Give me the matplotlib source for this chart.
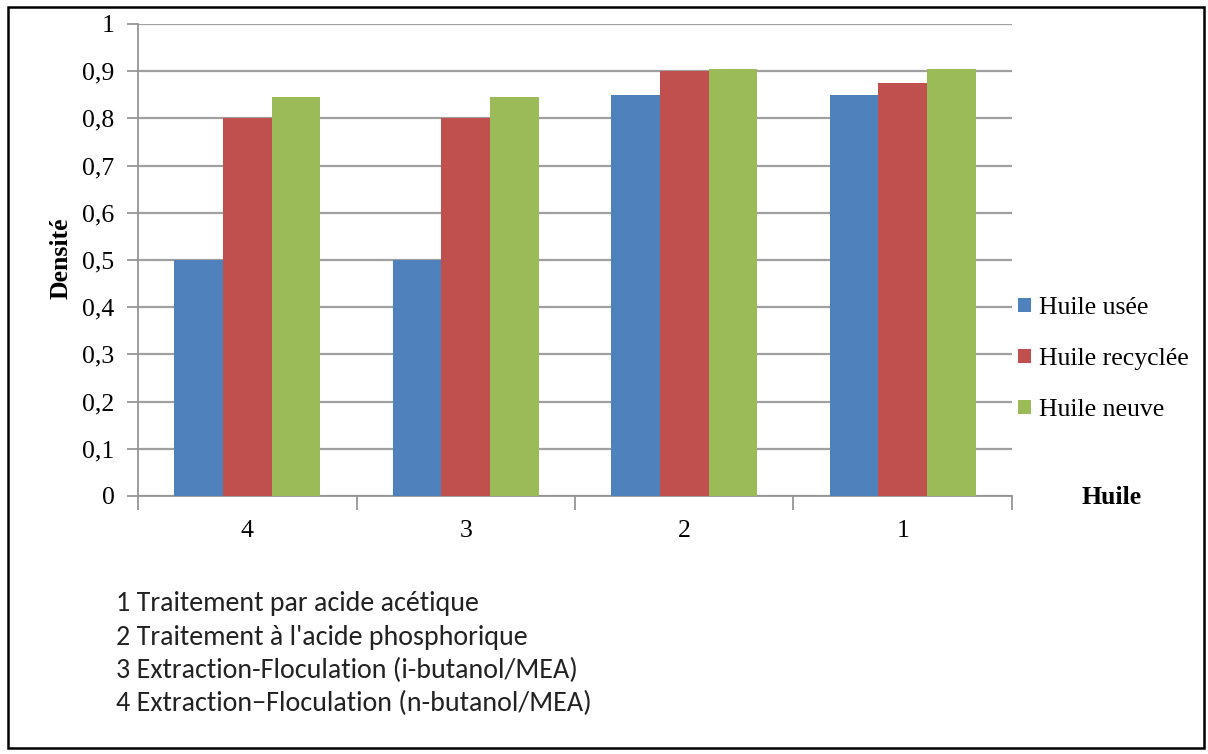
import matplotlib
matplotlib.use("Agg")
import matplotlib.pyplot as plt
import matplotlib.patches as mpatches
import numpy as np

categories = ["4", "3", "2", "1"]
series_names = ["Huile usée", "Huile recyclée", "Huile neuve"]
huile_usee = [0.50, 0.50, 0.85, 0.85]
huile_recyclee = [0.80, 0.80, 0.90, 0.875]
huile_neuve = [0.845, 0.845, 0.905, 0.905]
yticks = [0, 0.1, 0.2, 0.3, 0.4, 0.5, 0.6, 0.7, 0.8, 0.9, 1.0]
ytick_labels = ["0", "0,1", "0,2", "0,3", "0,4", "0,5", "0,6", "0,7", "0,8", "0,9", "1"]
notes = [
    "1 Traitement par acide acétique",
    "2 Traitement à l'acide phosphorique",
    "3 Extraction-Floculation (i-butanol/MEA)",
    "4 Extraction\u2212Floculation (n-butanol/MEA)",
]
colors = ["#4F81BD", "#C0504D", "#9BBB59"]

plt.rcParams["font.family"] = ["Liberation Serif", "DejaVu Serif"]

W, H = 1208, 754
FS = 18.5
fig = plt.figure(figsize=(W / 100, H / 100), dpi=100)
fig.patch.set_facecolor("white")

ax = fig.add_axes([138 / W, 1 - 496 / H, (1012 - 138) / W, (496 - 24) / H])
x = np.arange(len(categories))
bw = 0.222
for i, (vals, name, c) in enumerate(zip([huile_usee, huile_recyclee, huile_neuve], series_names, colors)):
    ax.bar(x + (i - 1) * bw, vals, width=bw, color=c, label=name, zorder=3)

ax.set_xlim(-0.5, 3.5)
ax.set_ylim(0, 1)
ax.set_yticks(yticks)
ax.set_yticklabels(ytick_labels, fontsize=FS)
ax.set_xticks(x)
ax.set_xticklabels(categories, fontsize=FS)
ax.set_xticks(np.arange(-0.5, 3.6, 1.0), minor=True)
ax.tick_params(axis="x", which="major", length=0, pad=17)
ax.tick_params(axis="x", which="minor", length=10, width=1.3, color="#969696")
ax.tick_params(axis="y", length=8, width=1.3, color="#969696", pad=9)
ax.grid(axis="y", color="#a0a0a0", linewidth=1.6, zorder=0)
ax.set_axisbelow(True)
for s in ["top", "right"]:
    ax.spines[s].set_visible(False)
for s in ["left", "bottom"]:
    ax.spines[s].set_color("#969696")
    ax.spines[s].set_linewidth(1.3)

fig.text(61 / W, 1 - 258 / H, "Densité", rotation=90, ha="center", va="center",
         fontsize=FS, fontweight="bold")
fig.text(1112 / W, 1 - 497 / H, "Huile", ha="center", va="center",
         fontsize=FS, fontweight="bold")

leg = fig.legend(loc="upper left", bbox_to_anchor=(1018 / W, 1 - 297 / H), frameon=False,
                 prop={"size": FS}, handlelength=0.5, handleheight=0.5,
                 handletextpad=0.3, labelspacing=1.13, borderaxespad=0, borderpad=0)

for k, line in enumerate(notes):
    fig.text(116 / W, 1 - (604 + k * 33.3) / H, line, ha="left", va="center",
             family=["Carlito", "Lato", "DejaVu Sans"], fontsize=20.2, color="#222222")

fig.add_artist(mpatches.Rectangle((8 / W, 1 - 748 / H), (1204 - 8) / W, (748 - 7) / H,
                                  transform=fig.transFigure, fill=False,
                                  edgecolor="black", linewidth=1.8))

fig.savefig("out.png", dpi=100)
